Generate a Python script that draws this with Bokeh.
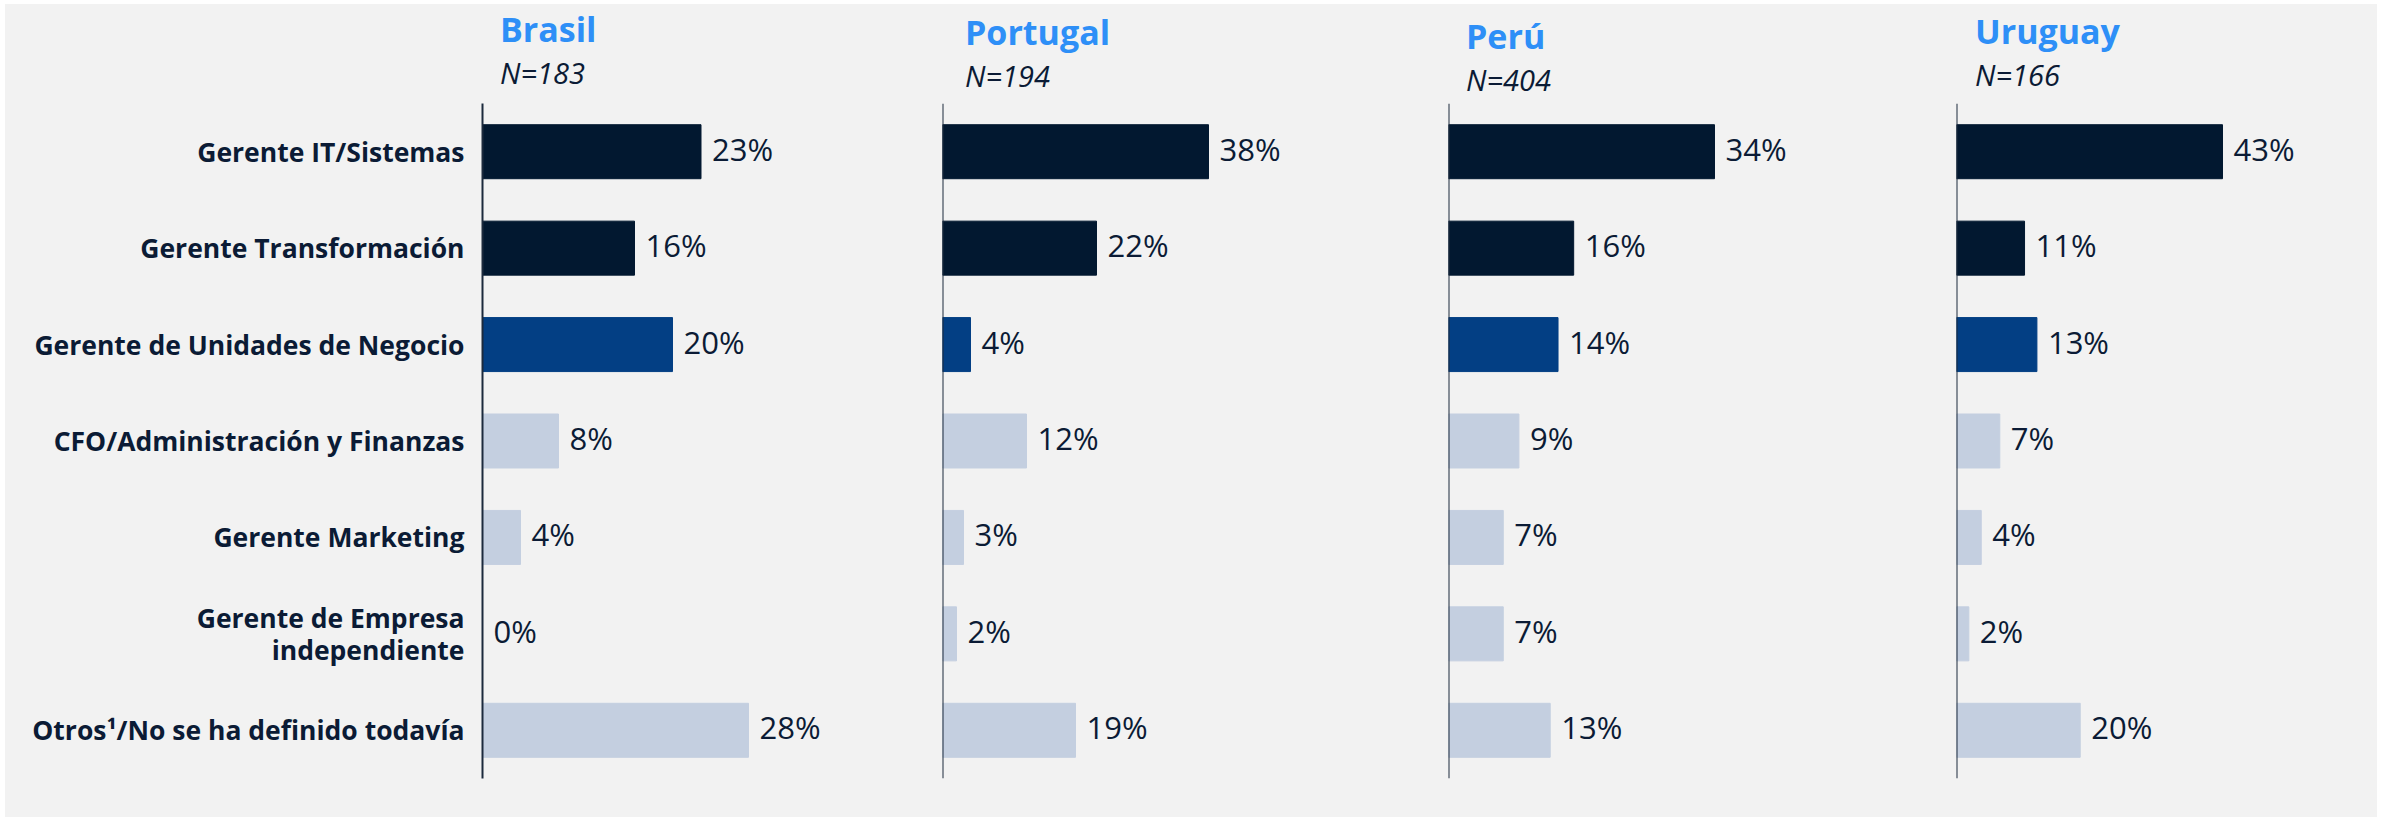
from bokeh.plotting import figure
from bokeh.layouts import row, column
from bokeh.models import FactorRange, Range1d, Span, ColumnDataSource, Div
from bokeh.core.properties import value
from bokeh.embed import file_html
from bokeh.resources import INLINE

# ---------------- data ----------------
categories = [
    "Gerente IT/Sistemas",
    "Gerente Transformación",
    "Gerente de Unidades de Negocio",
    "CFO/Administración y Finanzas",
    "Gerente Marketing",
    "Gerente de Empresa\nindependiente",
    "Otros¹/No se ha definido todavía",
]
countries = ["Brasil", "Portugal", "Perú", "Uruguay"]
sample_sizes = ["N=183", "N=194", "N=404", "N=166"]
brasil = [23, 16, 20, 8, 4, 0, 28]
portugal = [38, 22, 4, 12, 3, 2, 19]
peru = [34, 16, 14, 9, 7, 7, 13]
uruguay = [43, 11, 13, 7, 4, 2, 20]
series = [brasil, portugal, peru, uruguay]

# ---------------- style ----------------
BG = "#F2F2F2"
DARK = "#021830"
MID = "#033F84"
LIGHT = "#C4CFE0"
TEXT = "#0B1B35"
TITLE_BLUE = "#2E8FF7"
AXIS = "#1C2A3D"
bar_colors = [DARK, DARK, MID, LIGHT, LIGHT, LIGHT, LIGHT]

FONT = "Open Sans"
HEAD_H = 99          # header band above the plots
PLOT_H = 714
BOTTOM = 39
MAX_BAR_PX = 266
fig_w = [927, 506, 508, 431]
left_b = [477, 10, 10, 10]
head_pad_left = [495, 33, 28, 29]
head_pad_top = [2, 5, 9, 4]

heads, figs = [], []
for i, (name, nlab, vals) in enumerate(zip(countries, sample_sizes, series)):
    html = (
        f'<div style="padding-left:{head_pad_left[i]}px;padding-top:{head_pad_top[i]}px;'
        f'font-family:\'{FONT}\';white-space:nowrap;">'
        f'<div style="font-size:34px;font-weight:bold;line-height:46px;color:{TITLE_BLUE};">{name}</div>'
        f'<div style="font-size:29px;font-style:italic;line-height:41px;color:{TEXT};">{nlab}</div>'
        f'</div>'
    )
    heads.append(Div(text=html, width=fig_w[i], height=HEAD_H, margin=0,
                     styles={"background-color": BG}))

    frame_w = fig_w[i] - left_b[i]
    x_end = max(vals) * frame_w / MAX_BAR_PX
    p = figure(
        width=fig_w[i], height=PLOT_H,
        y_range=FactorRange(factors=list(reversed(categories))),
        x_range=Range1d(0, x_end),
        output_backend="svg", toolbar_location=None, title=None,
        x_axis_location=None,
        y_axis_location="left" if i == 0 else None,
        min_border_left=left_b[i], min_border_right=0,
        min_border_top=0, min_border_bottom=BOTTOM,
    )
    p.background_fill_color = BG
    p.border_fill_color = BG
    p.outline_line_color = None
    p.xgrid.visible = False
    p.ygrid.visible = False

    src = ColumnDataSource(dict(
        cat=categories, val=vals, color=bar_colors,
        lab=[f"{v}%" for v in vals],
    ))
    p.hbar(y="cat", left=0, right="val", height=0.56, color="color", source=src)
    p.text(x="val", y="cat", text="lab", source=src, x_offset=11, y_offset=-3,
           text_baseline="middle", text_align="left",
           text_font=value(FONT), text_font_size="31px", text_color=TEXT)

    if i == 0:
        ax = p.yaxis[0]
        ax.axis_line_color = AXIS
        ax.axis_line_width = 2
        ax.major_tick_line_color = None
        ax.minor_tick_line_color = None
        ax.major_label_standoff = 12
        ax.major_label_text_font = FONT
        ax.major_label_text_font_style = "bold"
        ax.major_label_text_font_size = "26.5px"
        ax.major_label_text_color = TEXT
        ax.major_label_text_line_height = 0.9
    else:
        p.add_layout(Span(location=0, dimension="height", line_color=AXIS, line_width=2))
    figs.append(p)

layout = column(
    row(*heads, spacing=0, styles={"background-color": BG}),
    row(*figs, spacing=0, styles={"background-color": BG}),
    spacing=0, margin=(4, 5, 3, 5), styles={"background-color": BG},
)
open("out.html", "w").write(file_html(layout, INLINE))
